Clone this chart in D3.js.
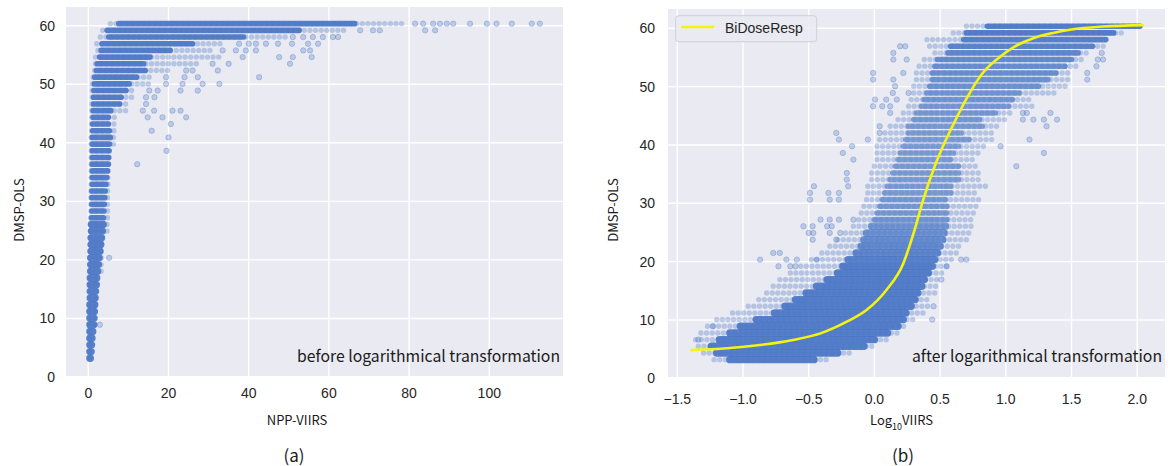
<!DOCTYPE html>
<html lang="en">
<head>
<meta charset="UTF-8">
<title>DMSP-OLS vs NPP-VIIRS</title>
<style>
  body { margin: 0; background: #fff; }
  svg { display: block; }
  .tick-label { font-family: 'Liberation Sans', Arial, sans-serif; font-size: 14px; fill: #262626; }
  .cjk { font-family: 'Noto Sans CJK SC', 'Noto Sans', sans-serif; fill: #1a1a1a; }
</style>
</head>
<body>
<svg width="1168" height="466"></svg>
<script src="https://d3js.org/d3.v7.min.js"></script>
<script>
// DMSP-OLS levels (rows of the scatter)
const levels = [3.20, 4.34, 5.49, 6.63, 7.77, 8.92, 10.06, 11.20, 12.34, 13.49,
  14.63, 15.77, 16.92, 18.06, 19.20, 20.35, 21.49, 22.63, 23.77, 24.92,
  26.06, 27.20, 28.35, 29.49, 30.63, 31.78, 32.92, 34.06, 35.20, 36.35,
  37.49, 38.63, 39.78, 40.92, 42.06, 43.21, 44.35, 45.49, 46.63, 47.78,
  48.92, 50.06, 51.21, 52.35, 53.49, 54.64, 55.78, 56.92, 58.06, 59.21, 60.35];

// panel (a): NPP-VIIRS extent of the points on each level
const aSemiLo = [0.3,0.3,0.3,0.3,0.3,0.3,0.3,0.3,0.3,0.3, 0.3,0.3,0.4,0.4,0.4,0.4,0.4,0.5,0.5,0.5,
  0.5,0.6,0.6,0.6,0.6,0.6,0.7,0.7,0.7,0.7, 0.7,0.7,0.7,0.7,0.8,0.8,0.9,0.9,0.9,1.0,
  1.0,1.0,1.2,1.6,1.8,1.8,2.4,2.1,3.0,3.6,5.5];
const aLo = [0.4,0.4,0.4,0.4,0.4,0.4,0.4,0.4,0.4,0.5, 0.5,0.5,0.5,0.6,0.6,0.6,0.7,0.7,0.7,0.8,
  0.8,0.8,0.9,0.9,0.9,0.9,1.0,1.0,1.0,1.0, 1.0,1.0,1.0,1.0,1.1,1.1,1.2,1.2,1.3,1.3,
  1.4,1.5,1.6,2.0,2.2,2.8,3.2,3.4,5.1,4.7,7.6];
const aHi = [0.5,0.7,0.8,0.9,1.1,1.3,1.4,1.5,1.6,1.7, 1.8,2.0,2.1,2.3,2.5,2.7,2.9,3.1,3.3,3.5,
  3.7,3.8,3.9,4.0,4.1,4.2,4.4,4.6,4.8,5.0, 5.1,5.2,5.3,5.5,5.3,5.0,5.0,5.6,7.8,8.2,
  9.4,10.2,12.0,14.2,13.8,15.4,20.4,26.0,38.7,52.6,66.4];
const aSemiHi = [0.6,0.9,1.1,1.3,1.5,1.7,1.9,2.1,2.2,2.4, 2.6,2.8,3.0,3.2,3.4,3.7,4.0,4.2,4.5,4.7,
  4.9,5.0,5.1,5.2,5.3,5.0,5.4,5.6,5.8,6.2, 6.0,6.2,6.4,7.4,6.8,7.6,7.2,9.5,10.0,11.2,
  12.0,15.4,16.4,20.4,27.9,33.4,30.4,33.4,49.4,64.4,79.4];
const aOutliers = [
  [81.5,60.35],[83.5,60.35],[86,60.35],[87.7,60.35],[89.4,60.35],[91,60.35],[95.2,60.35],
  [99.4,60.35],[101.8,60.35],[105.6,60.35],[110.6,60.35],[112.6,60.35],
  [67.8,59.21],[71,59.21],[72.7,59.21],[84,59.21],[86.5,59.21],
  [51,58.06],[53.6,58.06],[56,58.06],[58.5,58.06],[61,58.06],[62.3,58.06],
  [37.6,56.92],[40,56.92],[41.8,56.92],[44.3,56.92],[47.3,56.92],[50.8,56.92],[54.8,56.92],[57.3,56.92],
  [33.5,55.78],[36.8,55.78],[39.3,55.78],[41.8,55.78],[53.6,55.78],[55.3,55.78],
  [38.5,54.64],[47.6,54.64],[51,54.64],[55.7,54.64],
  [31,53.49],[35,53.49],[50.3,53.49],
  [24.4,52.35],[26,52.35],[32.3,52.35],
  [19.4,51.21],[24,51.21],[27.3,51.21],[42.6,51.21],
  [19.4,50.06],[23.5,50.06],[28.5,50.06],[32.7,50.06],
  [15.2,48.92],[17.3,48.92],[23,48.92],[27.3,48.92],
  [14.4,47.78],[16.5,47.78],[14.4,46.63],
  [13.6,45.49],[16.4,45.49],[21,45.49],[23,45.49],
  [14.8,44.35],[18.5,44.35],[24.4,44.35],[20.6,43.21],
  [15.8,42.06],[20,40.92],[19.5,38.63],[12.2,36.35],[5.2,20.35],[2.9,8.92]
];

// panel (b): log10 VIIRS extent of the points on each level
const bSemiLo = [-1.22,-1.30,-1.34,-1.36,-1.32,-1.27,-1.20,-1.08,-0.96,-0.88,
  -0.82,-0.77,-0.72,-0.64,-0.56,-0.48,-0.40,-0.34,-0.28,-0.22,
  -0.16,-0.12,-0.10,-0.08,-0.06,-0.05,-0.05,-0.02,-0.02,0.00,
  0.02,0.02,0.02,0.04,0.08,0.12,0.18,0.22,0.26,0.28,
  0.30,0.30,0.32,0.32,0.34,0.38,0.46,0.42,0.40,0.60,0.70];
const bLo = [-1.10,-1.20,-1.24,-1.18,-1.10,-1.02,-0.90,-0.76,-0.68,-0.60,
  -0.52,-0.44,-0.36,-0.28,-0.24,-0.20,-0.14,-0.10,-0.08,-0.06,
  -0.02,0.00,0.02,0.04,0.06,0.08,0.10,0.12,0.14,0.16,
  0.18,0.20,0.22,0.24,0.26,0.26,0.30,0.32,0.36,0.38,
  0.40,0.42,0.44,0.44,0.46,0.48,0.56,0.58,0.68,0.70,0.86];
const bHi = [-0.46,-0.28,-0.08,0.00,0.10,0.18,0.22,0.24,0.28,0.31,
  0.33,0.36,0.38,0.41,0.44,0.46,0.48,0.50,0.52,0.53,
  0.54,0.55,0.55,0.55,0.54,0.58,0.58,0.64,0.64,0.64,
  0.58,0.60,0.64,0.72,0.66,0.82,0.80,0.92,1.02,1.05,
  1.10,1.25,1.32,1.38,1.45,1.50,1.55,1.66,1.76,1.82,2.02];
const bSemiHi = [-0.36,-0.18,0.02,0.10,0.20,0.24,0.33,0.38,0.42,0.44,
  0.46,0.48,0.50,0.52,0.55,0.60,0.65,0.68,0.72,0.72,
  0.75,0.75,0.78,0.80,0.80,0.80,0.85,0.80,0.80,0.78,
  0.78,0.80,0.84,0.92,0.90,0.94,1.02,1.05,1.22,1.18,
  1.38,1.48,1.50,1.48,1.56,1.58,1.62,1.75,1.78,1.92,2.03];
// relative point density of each row in panel (b)
const bDensity = [1,1,1,1,1,1,1,1,1,1, 1,1,1,1,1,0.95,0.9,0.85,0.8,0.75,
  0.7,0.65,0.6,0.6,0.6,0.55,0.55,0.55,0.55,0.55, 0.55,0.55,0.55,0.55,0.55,0.55,0.6,0.6,0.6,0.65,
  0.65,0.7,0.7,0.75,0.75,0.8,0.85,0.9,0.95,1,1];
const bOutliers = [
  [0.195,56.92],[0.235,56.92],[0.144,55.78],[1.73,55.78],[0.144,54.64],[0.246,54.64],[1.70,54.64],[1.74,54.64],
  [1.69,53.49],[-0.01,52.35],[0.22,52.35],[1.62,52.35],[-0.01,51.21],[0.144,51.21],[1.62,51.21],
  [0.157,50.06],[0.14,48.92],[0.26,48.92],[0.005,47.78],[0.09,47.78],[0.17,47.78],
  [-0.01,46.63],[0.06,46.63],[0.12,46.63],[0.12,45.49],[1.13,45.49],[1.16,45.49],[1.34,45.49],
  [1.13,44.35],[1.21,44.35],[1.29,44.35],[1.39,44.35],[0.04,43.21],[1.31,43.21],
  [-0.29,42.06],[0.04,42.06],[-0.27,40.92],[-0.05,40.92],[1.18,40.92],[-0.17,39.78],[0.96,39.78],
  [-0.24,38.63],[1.29,38.63],[-0.16,37.49],[1.08,36.35],[-0.21,35.20],[-0.21,34.06],
  [-0.46,32.92],[-0.20,32.92],[-0.49,31.78],[-0.35,31.78],[-0.27,31.78],
  [-0.49,30.63],[-0.34,30.63],[-0.27,30.63],
  [-0.41,27.20],[-0.34,27.20],[-0.27,27.20],[-0.16,27.20],
  [-0.54,26.06],[-0.47,26.06],[-0.36,26.06],[-0.325,26.06],
  [-0.50,24.92],[-0.465,24.92],[-0.34,24.92],[-0.26,24.92],[-0.47,23.77],[-0.29,23.77],
  [-0.77,21.49],[-0.72,21.49],[-0.87,20.35],[-0.67,20.35],[-0.59,20.35],[-0.44,20.35],
  [-0.73,19.20],[-0.64,19.20],[-0.60,19.20],[-1.34,6.63],[-1.23,8.92],
  [0.70,20.35],[0.66,20.35],[0.55,19.20],[0.51,16.92],[0.45,12.34],[0.44,10.06]
];

// BiDoseResp fit
const fitX = [-1.40,-1.12,-0.87,-0.62,-0.41,-0.21,-0.06,0.09,0.22,0.30,0.37,0.47,0.60,0.71,0.82,0.95,1.07,1.21,1.36,1.50,1.74,2.05];
const fitY = [4.85,5.14,5.70,6.57,7.70,9.70,11.70,15.10,19.70,25.0,30.5,37.0,43.5,48.3,52.2,55.0,56.9,58.3,59.2,59.8,60.3,60.55];

const yTicks = [0, 10, 20, 30, 40, 50, 60];
const aXTicks = [0, 20, 40, 60, 80, 100];
const bXTicks = [-1.5, -1.0, -0.5, 0.0, 0.5, 1.0, 1.5, 2.0];

const svg = d3.select("svg");
const dotColor = "#4472c4";

function drawPanel(p) {
  const g = svg.append("g");
  g.append("rect")
    .attr("x", p.box[0]).attr("y", p.box[1])
    .attr("width", p.box[2] - p.box[0]).attr("height", p.box[3] - p.box[1])
    .attr("fill", "#eaeaf2");

  g.append("clipPath").attr("id", p.id + "-clip")
    .append("rect")
    .attr("x", p.box[0]).attr("y", p.box[1])
    .attr("width", p.box[2] - p.box[0]).attr("height", p.box[3] - p.box[1]);

  // grid
  g.append("g").selectAll("line").data(p.xTicks).join("line")
    .attr("x1", d => p.x(d)).attr("x2", d => p.x(d))
    .attr("y1", p.box[1]).attr("y2", p.box[3])
    .attr("stroke", "#fff").attr("stroke-width", 1.4);
  g.append("g").selectAll("line").data(yTicks.filter(d => p.y(d) <= p.box[3]))
    .join("line")
    .attr("x1", p.box[0]).attr("x2", p.box[2])
    .attr("y1", d => p.y(d)).attr("y2", d => p.y(d))
    .attr("stroke", "#fff").attr("stroke-width", 1.4);

  const plot = g.append("g").attr("clip-path", `url(#${p.id}-clip)`);
  const rows = levels.map((lv, i) => ({
    lv, semiLo: p.semiLo[i], lo: p.lo[i], hi: p.hi[i], semiHi: p.semiHi[i],
    dens: p.density ? p.density[i] : 1
  }));
  const opac = d3.scaleLinear().domain([0, 1]).range([0.15, 0.88]);

  // sparse fringe of each row: a string of translucent points
  plot.append("g").selectAll("path").data(rows).join("path")
    .attr("d", d => `M${p.x(d.semiLo)},${p.y(d.lv)}L${p.x(d.semiHi)},${p.y(d.lv)}`)
    .attr("fill", "none")
    .attr("stroke", dotColor)
    .attr("stroke-width", 5.4)
    .attr("stroke-linecap", "round")
    .attr("stroke-dasharray", "0 5.6")
    .attr("stroke-opacity", 0.32);

  // dense core of each row
  plot.append("g").selectAll("path").data(rows).join("path")
    .attr("d", d => `M${p.x(d.lo)},${p.y(d.lv)}L${p.x(d.hi)},${p.y(d.lv)}`)
    .attr("fill", "none")
    .attr("stroke", dotColor)
    .attr("stroke-width", d => d.lv < 27 ? 7.4 : 5.6)
    .attr("stroke-linecap", "round")
    .attr("stroke-opacity", d => opac(d.dens));

  plot.append("g").selectAll("circle").data(p.outliers).join("circle")
    .attr("cx", d => p.x(d[0])).attr("cy", d => p.y(d[1]))
    .attr("r", 2.7)
    .attr("fill", dotColor).attr("fill-opacity", 0.28)
    .attr("stroke", dotColor).attr("stroke-opacity", 0.4).attr("stroke-width", 0.8);

  if (p.fit) {
    const line = d3.line().x(d => p.x(d[0])).y(d => p.y(d[1])).curve(d3.curveMonotoneX);
    plot.append("path")
      .datum(fitX.map((v, i) => [v, fitY[i]]))
      .attr("d", line)
      .attr("fill", "none")
      .attr("stroke", "#f4f40f")
      .attr("stroke-width", 2.6);
  }

  // tick labels
  g.append("g").selectAll("text").data(yTicks).join("text")
    .attr("class", "tick-label")
    .attr("x", p.yLabelX).attr("y", d => p.y(d)).attr("dy", "0.35em")
    .attr("text-anchor", "end")
    .text(d => d);
  g.append("g").selectAll("text").data(p.xTicks).join("text")
    .attr("class", "tick-label")
    .attr("x", d => p.x(d)).attr("y", p.xLabelY)
    .attr("text-anchor", "middle")
    .text(p.fmt);

  // axis titles
  g.append("text").attr("class", "cjk")
    .attr("transform", `translate(${p.yTitleX},210) rotate(-90)`)
    .attr("text-anchor", "middle").attr("font-size", 13)
    .text("DMSP-OLS");

  g.append("text").attr("class", "cjk")
    .attr("x", p.note[0]).attr("y", 362)
    .attr("font-size", 16)
    .attr("textLength", p.note[1]).attr("lengthAdjust", "spacingAndGlyphs")
    .text(p.noteText);

  g.append("text").attr("class", "cjk")
    .attr("x", p.panelX).attr("y", 462)
    .attr("text-anchor", "middle").attr("font-size", 17)
    .text(p.panelText);
  return g;
}

const gA = drawPanel({
  id: "pa",
  box: [66, 7, 563, 376],
  x: d3.scaleLinear().domain([0, 100]).range([88.3, 489.3]),
  y: d3.scaleLinear().domain([0, 60]).range([377, 25.7]),
  xTicks: aXTicks, fmt: d => d,
  semiLo: aSemiLo, lo: aLo, hi: aHi, semiHi: aSemiHi, outliers: aOutliers,
  yLabelX: 55, xLabelY: 398, yTitleX: 23.5,
  note: [297, 263], noteText: "before logarithmical transformation",
  panelX: 294, panelText: "(a)"
});
gA.append("text").attr("class", "cjk")
  .attr("x", 297).attr("y", 425).attr("text-anchor", "middle").attr("font-size", 13)
  .text("NPP-VIIRS");

const gB = drawPanel({
  id: "pb",
  box: [668, 9, 1165, 377],
  x: d3.scaleLinear().domain([-1.5, 2.0]).range([677.3, 1137.2]),
  y: d3.scaleLinear().domain([0, 60]).range([378.3, 28.3]),
  xTicks: bXTicks, fmt: d3.format(".1f"),
  semiLo: bSemiLo, lo: bLo, hi: bHi, semiHi: bSemiHi, outliers: bOutliers, density: bDensity,
  fit: true,
  yLabelX: 655, xLabelY: 404, yTitleX: 618,
  note: [912, 250], noteText: "after logarithmical transformation",
  panelX: 903, panelText: "(b)"
});
const xt = gB.append("text").attr("class", "cjk")
  .attr("x", 870).attr("y", 425).attr("font-size", 13);
xt.append("tspan").text("Log");
xt.append("tspan").attr("font-size", 9).attr("dy", 5).text("10");
xt.append("tspan").attr("dy", -5).text("VIIRS");

// legend
const lg = gB.append("g");
lg.append("rect").attr("x", 675.7).attr("y", 15.7).attr("width", 141).attr("height", 26)
  .attr("rx", 3).attr("fill", "#eaeaf2").attr("fill-opacity", 0.85)
  .attr("stroke", "#cfcfd6").attr("stroke-width", 1);
lg.append("line").attr("x1", 681).attr("x2", 714).attr("y1", 27).attr("y2", 27)
  .attr("stroke", "#f4f40f").attr("stroke-width", 2.6);
lg.append("text").attr("class", "tick-label").attr("x", 725).attr("y", 32.5)
  .attr("font-size", 14.5).text("BiDoseResp");
</script>
</body>
</html>
